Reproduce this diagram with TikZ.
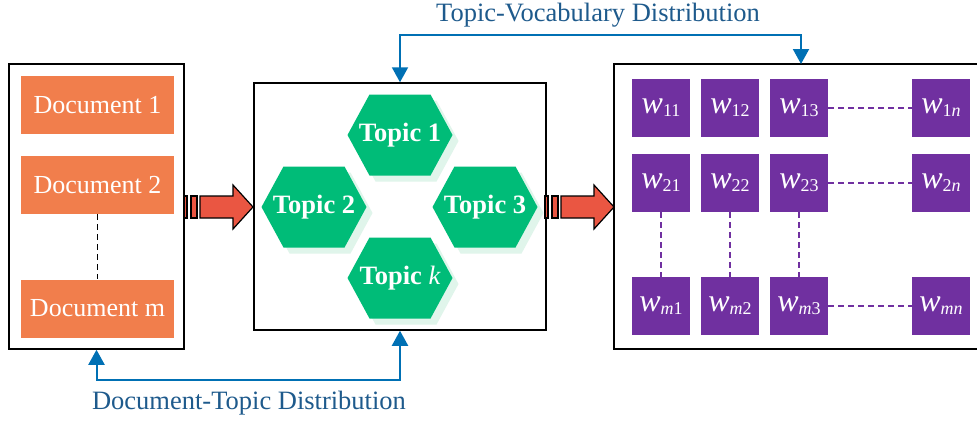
\documentclass[tikz,border=0pt]{standalone}
\usepackage{fontspec}
\setmainfont{Liberation Serif}
\usetikzlibrary{arrows.meta}

\definecolor{docorange}{RGB}{241,126,76}
\definecolor{topicgreen}{RGB}{0,188,120}
\definecolor{topicshade}{RGB}{224,245,235}
\definecolor{wordpurple}{RGB}{112,48,160}
\definecolor{flowred}{RGB}{234,86,66}
\definecolor{linkblue}{RGB}{0,112,180}
\definecolor{labelblue}{RGB}{30,90,140}

% word symbol w with a subscript
\newcommand{\wsub}[1]{{\itshape w}\raisebox{-3pt}{\fontsize{18}{18}\selectfont #1}}

% hexagonal topic: x, y, name, label
\newcommand{\topichex}[4]{%
  \fill[topicshade,shift={(#1+6,#2+6)}]
    (-52.5,0) -- (-30.5,-40.5) -- (30.5,-40.5) -- (52.5,0) -- (30.5,40.5) -- (-30.5,40.5) -- cycle;
  \fill[topicgreen,shift={(#1,#2)}]
    (-52.5,0) -- (-30.5,-40.5) -- (30.5,-40.5) -- (52.5,0) -- (30.5,40.5) -- (-30.5,40.5) -- cycle;
  \node[topiclabel] (#3) at (#1,#2) {#4};}

% striped block arrow starting at x = #1
\newcommand{\flowarrow}[1]{%
  \begin{scope}[shift={(#1,0)}]
    \filldraw[flowblock] (0,196) rectangle (3,218);
    \filldraw[flowblock] (7,196) rectangle (13,218);
    \filldraw[flowblock] (16,196) -- (49,196) -- (49,185) -- (69,207) -- (49,229)
      -- (49,218) -- (16,218) -- cycle;
  \end{scope}}

\begin{document}
\begin{tikzpicture}[x=1pt,y=-1pt,
  frame/.style={draw=black,line width=1.5pt,fill=white,inner sep=0},
  docbox/.style={fill=docorange,text=white,minimum width=153pt,minimum height=58pt,
    inner sep=0,font=\fontsize{26}{26}\selectfont},
  wordbox/.style={fill=wordpurple,text=white,minimum width=58pt,minimum height=58pt,
    inner sep=0,font=\fontsize{32}{32}\selectfont},
  topiclabel/.style={text=white,inner sep=0,font=\bfseries\fontsize{26.5}{26.5}\selectfont},
  flowblock/.style={fill=flowred,draw=black,line width=1.2pt,line join=miter},
  wlink/.style={draw=wordpurple,line width=1.3pt,dash pattern=on 6pt off 4pt},
  dlink/.style={draw=black,line width=1.3pt,dash pattern=on 6pt off 4pt},
  link/.style={draw=linkblue,line width=2pt,
    {Triangle[width=16pt,length=15pt]}-{Triangle[width=16pt,length=15pt]}},
  distlabel/.style={text=labelblue,inner sep=0,font=\fontsize{26.5}{26.5}\selectfont}]

\useasboundingbox (0,0) rectangle (977,421);

% three frames
\node[frame,minimum width=175pt,minimum height=285pt] (docs) at (96.5,206.5) {};
\node[frame,minimum width=292pt,minimum height=247pt] (topics) at (400,206.5) {};
\node[frame,minimum width=371pt,minimum height=285pt] (vocab) at (799.5,206.5) {};

% documents
\node[docbox] (d1) at (97.5,105) {Document 1};
\node[docbox] (d2) at (97.5,185) {Document 2};
\node[docbox] (dm) at (97.5,308.5) {Document m};
\draw[dlink] (d2.south) -- (dm.north);

% topics
\topichex{400}{135}{t1}{Topic 1}
\topichex{314}{207}{t2}{Topic 2}
\topichex{485}{207}{t3}{Topic 3}
\topichex{400}{278}{tk}{Topic {\mdseries\itshape k}}

% word grid
\node[wordbox] (w11) at (661,108) {\wsub{11}};
\node[wordbox] (w12) at (730,108) {\wsub{12}};
\node[wordbox] (w13) at (799,108) {\wsub{13}};
\node[wordbox] (w1n) at (941,108) {\wsub{1{\itshape n}}};
\node[wordbox] (w21) at (661,183) {\wsub{21}};
\node[wordbox] (w22) at (730,183) {\wsub{22}};
\node[wordbox] (w23) at (799,183) {\wsub{23}};
\node[wordbox] (w2n) at (941,183) {\wsub{2{\itshape n}}};
\node[wordbox] (wm1) at (661,306) {\wsub{{\itshape m}1}};
\node[wordbox] (wm2) at (730,306) {\wsub{{\itshape m}2}};
\node[wordbox] (wm3) at (799,306) {\wsub{{\itshape m}3}};
\node[wordbox] (wmn) at (941,306) {\wsub{{\itshape mn}}};
\draw[wlink] (w13.east) -- (w1n.west);
\draw[wlink] (w23.east) -- (w2n.west);
\draw[wlink] (wm3.east) -- (wmn.west);
\draw[wlink] (w21.south) -- (wm1.north);
\draw[wlink] (w22.south) -- (wm2.north);
\draw[wlink] (w23.south) -- (wm3.north);

% flow arrows between frames
\flowarrow{184}
\flowarrow{545}

% distribution links
\coordinate (vocabin) at (801,64);
\draw[link] (topics.north) -- ++(0,-47) -| (vocabin);
\draw[link] (docs.south) -- ++(0,30) -| (topics.south);
\node[distlabel] (tvlabel) at (598,15) {Topic-Vocabulary Distribution};
\node[distlabel] (dtlabel) at (249,403) {Document-Topic Distribution};

\end{tikzpicture}
\end{document}
